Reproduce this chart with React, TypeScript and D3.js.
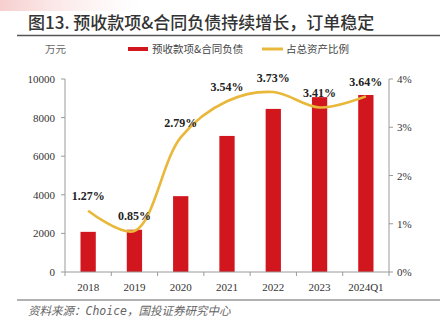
import React from "react";
import * as d3 from "d3";

const categories = ["2018", "2019", "2020", "2021", "2022", "2023", "2024Q1"];
const amounts = [2080, 2190, 3930, 7050, 8450, 9060, 9170];
const ratios = [1.27, 0.85, 2.79, 3.54, 3.73, 3.41, 3.64];
const leftTicks = [0, 2000, 4000, 6000, 8000, 10000];
const rightTicks = [0, 1, 2, 3, 4];

const W = 448;
const H = 328;
const m = { left: 65, right: 389, top: 79, bottom: 272 };
const serif = "'Liberation Serif', 'Times New Roman', serif";
const cjk = "'Noto Sans CJK SC', sans-serif";

export default function App() {
  const x = d3.scaleBand<string>().domain(categories).range([m.left, m.right]).padding(0);
  const yL = d3.scaleLinear().domain([0, 10000]).range([m.bottom, m.top]);
  const yR = d3.scaleLinear().domain([0, 4]).range([m.bottom, m.top]);
  const bw = x.bandwidth();
  const barW = bw * 0.33;
  const cx = (c: string) => (x(c) as number) + bw / 2;
  const line = d3
    .line<number>()
    .x((_, i) => cx(categories[i]))
    .y((d) => yR(d))
    .curve(d3.curveCatmullRom.alpha(0.5));
  const axisColor = "#9a9a9a";

  return (
    <svg width={W} height={H} style={{ position: "absolute", left: 0, top: 0, background: "#fff" }}>
      <defs>
        <linearGradient id="pink" x1="0" x2="1" y1="0" y2="0">
          <stop offset="0" stopColor="#f6c9c9" stopOpacity="0.9" />
          <stop offset="1" stopColor="#fbe6e6" stopOpacity="0" />
        </linearGradient>
      </defs>
      <rect x={0} y={0} width={140} height={11} fill="url(#pink)" />
      <text x={28} y={29} fontFamily={cjk} fontSize={17} fontWeight={500} fill="#333">
        图13. 预收款项&amp;合同负债持续增长，订单稳定
      </text>
      <line x1={17} x2={440} y1={35.5} y2={35.5} stroke="#555" strokeWidth={1.5} />

      {/* legend */}
      <text x={45} y={53} fontFamily={cjk} fontSize={10.5} fill="#666">万元</text>
      <rect x={128} y={47} width={20} height={4} fill="#d2161e" />
      <text x={152} y={53} fontFamily={cjk} fontSize={10.5} fill="#444">预收款项&amp;合同负债</text>
      <line x1={262} x2={283} y1={49} y2={49} stroke="#e9b83a" strokeWidth={3} />
      <text x={286} y={53} fontFamily={cjk} fontSize={10.5} fill="#444">占总资产比例</text>

      {/* left axis */}
      <line x1={m.left} x2={m.left} y1={m.top} y2={m.bottom} stroke={axisColor} />
      {leftTicks.map((t) => (
        <g key={t}>
          <line x1={m.left - 4} x2={m.left} y1={yL(t)} y2={yL(t)} stroke={axisColor} />
          <text x={55} y={yL(t) + 4} textAnchor="end" fontFamily={serif} fontSize={11} fill="#333">
            {t}
          </text>
        </g>
      ))}

      {/* right axis */}
      <line x1={m.right} x2={m.right} y1={m.top} y2={m.bottom} stroke={axisColor} />
      {rightTicks.map((t) => (
        <g key={t}>
          <line x1={m.right} x2={m.right + 4} y1={yR(t)} y2={yR(t)} stroke={axisColor} />
          <text x={397} y={yR(t) + 4} fontFamily={serif} fontSize={11} fill="#333">
            {t}%
          </text>
        </g>
      ))}

      {/* bars */}
      {categories.map((c, i) => (
        <rect
          key={c}
          x={cx(c) - barW / 2}
          y={yL(amounts[i])}
          width={barW}
          height={m.bottom - yL(amounts[i])}
          fill="#d2161e"
        />
      ))}

      {/* x axis */}
      <line x1={m.left} x2={m.right} y1={m.bottom} y2={m.bottom} stroke={axisColor} />
      {categories.map((c) => (
        <line key={"t" + c} x1={x(c)} x2={x(c)} y1={m.bottom} y2={m.bottom + 4} stroke={axisColor} />
      ))}
      <line x1={m.right} x2={m.right} y1={m.bottom} y2={m.bottom + 4} stroke={axisColor} />
      {categories.map((c) => (
        <text key={"l" + c} x={cx(c)} y={291} textAnchor="middle" fontFamily={serif} fontSize={11} fill="#333">
          {c}
        </text>
      ))}

      {/* line */}
      <path d={line(ratios) || ""} fill="none" stroke="#e9b83a" strokeWidth={2.6} />
      {categories.map((c, i) => (
        <text
          key={"v" + c}
          x={cx(c)}
          y={yR(ratios[i]) - 10.5}
          textAnchor="middle"
          fontFamily={serif}
          fontSize={12}
          fontWeight="bold"
          fill="#222"
        >
          {ratios[i].toFixed(2)}%
        </text>
      ))}

      {/* footer */}
      <line x1={17} x2={440} y1={300} y2={300} stroke="#666" strokeWidth={1.2} />
      <text x={28} y={315} fontFamily={cjk} fontSize={11.5} fontStyle="italic" fill="#666">
        资料来源：<tspan fontFamily="'DejaVu Sans Mono', monospace">Choice</tspan>，国投证券研究中心
      </text>
    </svg>
  );
}
